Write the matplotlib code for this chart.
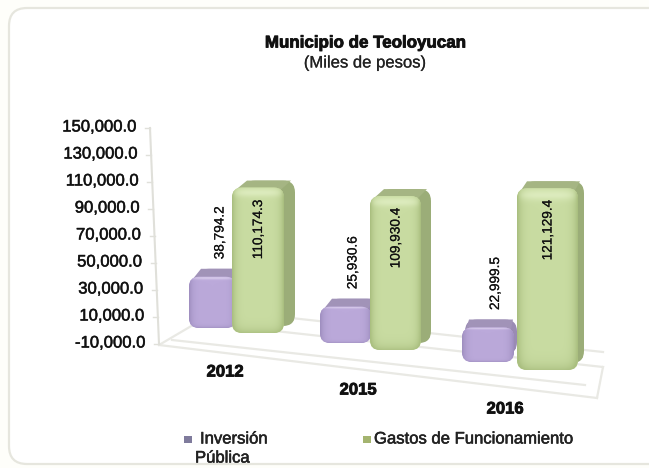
import numpy as np
import matplotlib
matplotlib.use("Agg")
import matplotlib.pyplot as plt
import matplotlib.patheffects as pe
from matplotlib.patches import FancyBboxPatch, Polygon, Rectangle
from matplotlib.colors import to_rgb

years = ["2012", "2015", "2016"]
inversion = [38794.2, 25930.6, 22999.5]
gastos = [110174.3, 109930.4, 121129.4]
tick_values = [150000, 130000, 110000, 90000, 70000, 50000, 30000, 10000, -10000]
series_names = ["Inversión", "Gastos de Funcionamiento"]

W, H = 649, 468

# perspective of the original 3d chart, in pixels per group
group_scale = [0.00132, 0.0014, 0.0015]
green_dx = [11, 10, 6]
purple_dx = [8, 8, 3]
purple_base = [328, 343, 362]
green_base = [333, 350, 370]
purple_x = [(189, 236), (320, 371), (462, 514)]
green_x = [(232, 284), (370, 421), (517, 578)]
year_pos = [(225, 372), (358, 390), (505, 409)]

plt.rcParams["font.family"] = ["Liberation Sans", "DejaVu Sans"]

fig = plt.figure(figsize=(W / 100, H / 100), dpi=100, facecolor="#fefefa")
ax = fig.add_axes([0, 0, 1, 1])
ax.axis("off")

heavy = [pe.withStroke(linewidth=0.4, foreground="#222222")]
thin = [pe.withStroke(linewidth=0.15, foreground="#222222")]
bold = [pe.withStroke(linewidth=0.6, foreground="#111111")]


def axis_y(v):
    return 344 - (v + 10000) * 0.00135


def axis_x(y):
    return 150 + (y - 128) * 9 / 216


def face_image(base, edge, light):
    # lighter band under the top edge, darker to the border
    base = np.array(to_rgb(base))
    edge = np.array(to_rgb(edge))
    light = np.array(to_rgb(light))
    u = np.linspace(-1, 1, 60)
    v = np.linspace(0, 1, 160)
    uu, vv = np.meshgrid(u, v)
    k = np.clip(np.abs(uu) ** 6 + (vv ** 30) * 0.8, 0, 1)[..., None]
    img = base + (edge - base) * k
    band = (np.exp(-((vv - 0.035) / 0.03) ** 2) * (1 - np.abs(uu) ** 4))[..., None]
    return img + (light - img) * band


def draw_bar(x0, x1, bottom, value, scale, cols, dx, dy, rad):
    front, edge, light, side, top_col = cols
    top = bottom - value * scale
    ax.add_patch(FancyBboxPatch((x0 + dx, top - dy), x1 - x0, bottom - top,
                                boxstyle="round,pad=0,rounding_size=%d" % (rad + 2),
                                fc=side, ec="none", zorder=3))
    ax.add_patch(Polygon([(x0 + 4, top + 2), (x0 + dx + 4, top - dy), (x1 + dx - 4, top - dy),
                          (x1 - 3, top + 2)], fc=top_col, ec="none", zorder=3))
    ax.add_patch(Polygon([(x1 - 5, top + 5), (x1 + dx - 1, top - dy + 6),
                          (x1 + dx - 1, bottom - dy - 6), (x1 - 5, bottom - 5)],
                         fc=side, ec="none", zorder=3))
    patch = FancyBboxPatch((x0, top), x1 - x0, bottom - top,
                           boxstyle="round,pad=0,rounding_size=%d" % rad,
                           fc=front, ec="none", zorder=4)
    ax.add_patch(patch)
    im = ax.imshow(face_image(front, edge, light), extent=(x0, x1, bottom, top),
                   aspect="auto", zorder=5)
    im.set_clip_path(patch)
    return top


purple_cols = ("#bba9da", "#9f8fc0", "#d6c9ea", "#9a8bb4", "#a193b8")
green_cols = ("#c9dca2", "#aabf80", "#dcebbd", "#9bad78", "#a5b583")

# panel
ax.add_patch(FancyBboxPatch((9, 8), 660, 456, boxstyle="round,pad=0,rounding_size=18",
                            fc="white", ec="#e6e6de", lw=1.6, zorder=1))

# floor
floor_col = "#e9e9e4"
for line in [[(159, 345), (597, 398)], [(159, 345), (193, 325)], [(236, 312), (603, 352)],
             [(193, 322), (603, 367)], [(172, 340), (585, 385)], [(597, 398), (603, 367)]]:
    xs, ys = zip(*line)
    ax.plot(xs, ys, color=floor_col, lw=1.6, zorder=2)

# value axis
ax.plot([axis_x(axis_y(v)) for v in tick_values], [axis_y(v) for v in tick_values],
        color="#e0e0da", lw=1.5, zorder=2)
for v in tick_values:
    y = axis_y(v)
    x = axis_x(y)
    ax.plot([x - 5, x], [y, y], color="#e0e0da", lw=1, zorder=2)
    ax.text(x - 14, y - 1, format(v, ",.1f"), ha="right", va="center", fontsize=12,
            color="#111111", zorder=6, path_effects=heavy)

for i in range(3):
    s = group_scale[i]
    top = draw_bar(purple_x[i][0], purple_x[i][1], purple_base[i], inversion[i], s,
                   purple_cols, purple_dx[i], 8, 10)
    ax.text(sum(purple_x[i]) / 2 + 7, top - 44, format(inversion[i], ",.1f"), rotation=90,
            ha="center", va="center", fontsize=9.8, color="#111111", zorder=6, path_effects=thin)
    top = draw_bar(green_x[i][0], green_x[i][1], green_base[i], gastos[i], s,
                   green_cols, green_dx[i], 7, 10)
    ax.text(sum(green_x[i]) / 2, top + 42, format(gastos[i], ",.1f"), rotation=90,
            ha="center", va="center", fontsize=9.8, color="#111111", zorder=6, path_effects=thin)
    ax.text(year_pos[i][0], year_pos[i][1], years[i], ha="center", va="center",
            fontsize=12, fontweight="bold", color="#111111", zorder=6, path_effects=bold)

# title
ax.text(365, 43, "Municipio de Teoloyucan", ha="center", va="center", fontsize=12.2,
        fontweight="bold", color="#111111", zorder=6, path_effects=bold)
ax.text(365, 63, "(Miles de pesos)", ha="center", va="center", fontsize=12,
        color="#222222", zorder=6, path_effects=thin)

# legend
ax.add_patch(Rectangle((184, 436), 8, 7, fc="#7f7b9c", ec="none", zorder=6))
ax.add_patch(Rectangle((363, 436), 8, 7, fc="#a4b46f", ec="none", zorder=6))
ax.text(200, 439, series_names[0], ha="left", va="center", fontsize=12, color="#222222",
        zorder=6, path_effects=heavy)
ax.text(195, 458, "Pública", ha="left", va="center", fontsize=12, color="#222222",
        zorder=6, path_effects=heavy)
ax.text(374, 439, series_names[1], ha="left", va="center", fontsize=12, color="#222222",
        zorder=6, path_effects=heavy)

ax.set_xlim(0, W)
ax.set_ylim(H, 0)
fig.savefig("out.png", dpi=100, facecolor=fig.get_facecolor())
